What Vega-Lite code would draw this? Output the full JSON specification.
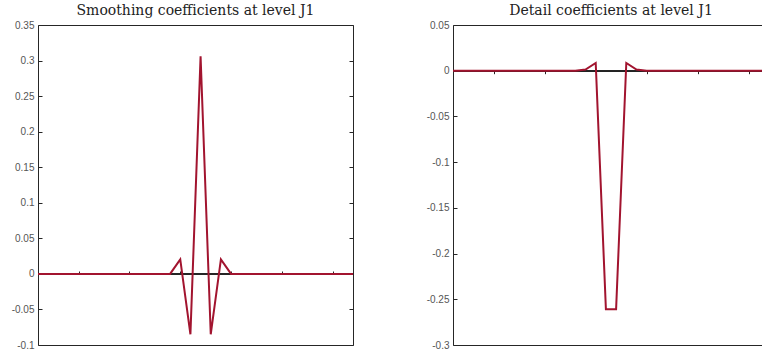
{
  "$schema": "https://vega.github.io/schema/vega-lite/v6.json",
  "padding": {"left": 10, "top": 3, "right": 0, "bottom": 0},
  "background": "white",
  "spacing": 67,
  "config": {
    "view": {"stroke": "#262626", "strokeWidth": 1},
    "title": {"font": "DejaVu Serif", "fontSize": 14, "fontWeight": "normal", "color": "#222222", "offset": 2, "anchor": "middle"},
    "axis": {"labelFont": "Liberation Sans", "labelFontSize": 10, "labelColor": "#555555", "grid": false, "title": null, "tickColor": "#262626", "domainColor": "#262626"}
  },
  "datasets": {
    "smooth": [
      {"n": 1, "v": 0}, {"n": 2, "v": 0}, {"n": 3, "v": 0}, {"n": 4, "v": 0},
      {"n": 5, "v": 0}, {"n": 6, "v": 0}, {"n": 7, "v": 0}, {"n": 8, "v": 0},
      {"n": 9, "v": 0}, {"n": 10, "v": 0}, {"n": 11, "v": 0}, {"n": 12, "v": 0},
      {"n": 13, "v": 0}, {"n": 14, "v": 0}, {"n": 15, "v": 0.0205}, {"n": 16, "v": -0.085},
      {"n": 17, "v": 0.306}, {"n": 18, "v": -0.085}, {"n": 19, "v": 0.0205}, {"n": 20, "v": 0},
      {"n": 21, "v": 0}, {"n": 22, "v": 0}, {"n": 23, "v": 0}, {"n": 24, "v": 0},
      {"n": 25, "v": 0}, {"n": 26, "v": 0}, {"n": 27, "v": 0}, {"n": 28, "v": 0},
      {"n": 29, "v": 0}, {"n": 30, "v": 0}, {"n": 31, "v": 0}, {"n": 32, "v": 0}
    ],
    "detail": [
      {"n": 1, "v": 0}, {"n": 2, "v": 0}, {"n": 3, "v": 0}, {"n": 4, "v": 0},
      {"n": 5, "v": 0}, {"n": 6, "v": 0}, {"n": 7, "v": 0}, {"n": 8, "v": 0},
      {"n": 9, "v": 0}, {"n": 10, "v": 0}, {"n": 11, "v": 0}, {"n": 12, "v": 0},
      {"n": 13, "v": 0}, {"n": 14, "v": 0.0012}, {"n": 15, "v": 0.0085}, {"n": 16, "v": -0.261},
      {"n": 17, "v": -0.261}, {"n": 18, "v": 0.0085}, {"n": 19, "v": 0.0012}, {"n": 20, "v": 0},
      {"n": 21, "v": 0}, {"n": 22, "v": 0}, {"n": 23, "v": 0}, {"n": 24, "v": 0},
      {"n": 25, "v": 0}, {"n": 26, "v": 0}, {"n": 27, "v": 0}, {"n": 28, "v": 0},
      {"n": 29, "v": 0}, {"n": 30, "v": 0}, {"n": 31, "v": 0}, {"n": 32, "v": 0}
    ]
  },
  "hconcat": [
    {
      "width": 315,
      "height": 320,
      "title": "Smoothing coefficients at level J1",
      "data": {"name": "smooth"},
      "resolve": {"axis": {"y": "independent"}},
      "layer": [
        {
          "mark": {"type": "rule", "color": "#262626", "strokeWidth": 1},
          "encoding": {
            "y": {"datum": 0, "type": "quantitative",
              "scale": {"domain": [-0.1, 0.35], "nice": false, "zero": false},
              "axis": {"orient": "right", "labels": false, "domain": false, "tickSize": -4, "values": [-0.1, -0.05, 0, 0.05, 0.1, 0.15, 0.2, 0.25, 0.3, 0.35]}}
          }
        },
        {
          "mark": {"type": "line", "color": "#A2142F", "strokeWidth": 2},
          "encoding": {
            "x": {"field": "n", "type": "quantitative",
              "scale": {"domain": [1, 32], "nice": false, "zero": false},
              "axis": {"orient": "bottom", "offset": -71, "labels": false, "tickSize": -3, "values": [5, 10, 15, 20, 25, 30], "domainWidth": 1}},
            "y": {"field": "v", "type": "quantitative",
              "scale": {"domain": [-0.1, 0.35], "nice": false, "zero": false},
              "axis": {"orient": "left", "domain": false, "tickSize": -4, "labelPadding": 8, "values": [-0.1, -0.05, 0, 0.05, 0.1, 0.15, 0.2, 0.25, 0.3, 0.35], "labelExpr": "'' + datum.value"}}
          }
        }
      ]
    },
    {
      "width": 316,
      "height": 320,
      "title": "Detail coefficients at level J1",
      "data": {"name": "detail"},
      "resolve": {"axis": {"y": "independent"}},
      "layer": [
        {
          "mark": {"type": "rule", "color": "#262626", "strokeWidth": 1},
          "encoding": {
            "y": {"datum": 0, "type": "quantitative",
              "scale": {"domain": [-0.3, 0.05], "nice": false, "zero": false},
              "axis": {"orient": "right", "labels": false, "domain": false, "tickSize": -4, "values": [-0.3, -0.25, -0.2, -0.15, -0.1, -0.05, 0, 0.05]}}
          }
        },
        {
          "mark": {"type": "line", "color": "#A2142F", "strokeWidth": 2},
          "encoding": {
            "x": {"field": "n", "type": "quantitative",
              "scale": {"domain": [1, 32], "nice": false, "zero": false},
              "axis": {"orient": "bottom", "offset": -274.3, "labels": false, "tickSize": 3, "values": [5, 10, 15, 20, 25, 30], "domainWidth": 1}},
            "y": {"field": "v", "type": "quantitative",
              "scale": {"domain": [-0.3, 0.05], "nice": false, "zero": false},
              "axis": {"orient": "left", "domain": false, "tickSize": -4, "labelPadding": 8, "values": [-0.3, -0.25, -0.2, -0.15, -0.1, -0.05, 0, 0.05], "labelExpr": "'' + datum.value"}}
          }
        }
      ]
    }
  ]
}
